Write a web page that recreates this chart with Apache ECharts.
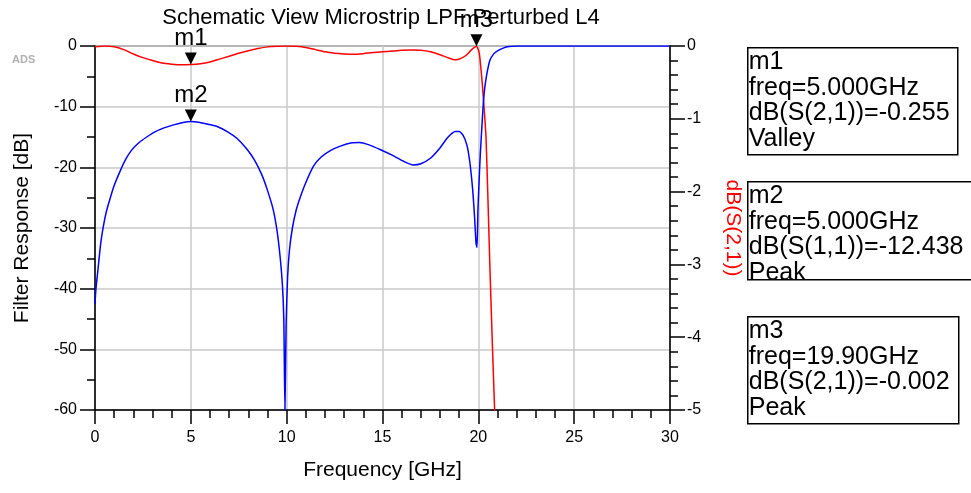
<!DOCTYPE html>
<html>
<head>
<meta charset="utf-8">
<script src="https://cdn.jsdelivr.net/npm/echarts@6/dist/echarts.min.js"></script>
<style>
  html, body { margin: 0; padding: 0; background: #fff; }
  #filterChart { width: 971px; height: 493px; }
</style>
</head>
<body>
<div id="filterChart"></div>
<script>
// dB(S(1,1)) - left axis
const s11Freq = [0, 0.05, 0.15, 0.3, 0.45, 0.6, 0.8, 1.0, 1.3, 1.6, 1.9, 2.3, 2.7, 3.1, 3.6, 4.1, 4.6, 5.0,
  5.4, 5.9, 6.4, 6.9, 7.4, 7.9, 8.3, 8.7, 9.0, 9.3, 9.5, 9.65, 9.78, 9.85, 9.91, 9.97, 10.05, 10.15, 10.3,
  10.5, 10.7, 11.0, 11.4, 11.8, 12.3, 12.8, 13.4, 13.8, 14.3, 14.9, 15.5, 16.1, 16.6, 17.0, 17.5, 18.0,
  18.4, 18.8, 19.0, 19.2, 19.4, 19.55, 19.7, 19.8, 19.88, 19.93, 19.98, 20.05, 20.1, 20.2, 20.27, 20.35,
  20.45, 20.6, 20.8, 21.0, 21.3, 21.6, 22.0, 30]
const s11Db = [-42.5, -40, -37, -32.5, -29.5, -27.2, -25, -23, -20.7, -18.7, -17.2, -15.9, -15.0, -14.2,
  -13.5, -13.0, -12.6, -12.44, -12.55, -12.9, -13.3, -14.1, -15.2, -16.9, -18.7, -21.2, -23.8, -27, -30.5,
  -34.5, -39.5, -45, -60, -46, -38, -33.5, -30, -27, -25, -22.5, -19.8, -18.3, -17.2, -16.5, -15.95, -15.9,
  -16.3, -17.1, -18.0, -19.0, -19.6, -19.4, -18.5, -16.8, -15.1, -14.1, -14.1, -14.7, -16.3, -19, -23.5,
  -28, -32.5, -33.2, -27, -21.5, -18, -12.5, -9, -6.5, -4.5, -2.4, -1.3, -0.8, -0.35, -0.1, 0, 0]

// dB(S(2,1)) - right axis
const s21Freq = [0, 0.5, 1.0, 1.5, 2.0, 2.5, 3.0, 3.5, 4.0, 4.5, 5.0, 5.5, 6.0, 6.5, 7.0, 7.5, 8.0, 8.5,
  9.0, 9.5, 10.0, 10.5, 11.0, 11.5, 12.0, 12.5, 13.0, 13.5, 14.0, 14.5, 15.0, 15.5, 16.0, 16.5, 17.0, 17.5,
  18.0, 18.4, 18.8, 19.1, 19.4, 19.65, 19.9, 20.05, 20.2, 20.3, 20.4, 20.49, 20.6, 20.72, 20.85, 20.95]
const s21Db = [-0.01, 0, -0.01, -0.05, -0.11, -0.16, -0.2, -0.235, -0.25, -0.258, -0.255, -0.245, -0.22,
  -0.18, -0.14, -0.1, -0.065, -0.035, -0.012, -0.002, 0, -0.005, -0.02, -0.05, -0.08, -0.1, -0.11, -0.115,
  -0.105, -0.09, -0.08, -0.07, -0.06, -0.055, -0.06, -0.08, -0.12, -0.16, -0.19, -0.17, -0.12, -0.05,
  -0.002, -0.1, -0.5, -0.85, -1.25, -2, -3, -4, -5, -5.8]

const markers = [
  { name: 'm1', freq: 5.0, value: -0.255, trace: 's21' },
  { name: 'm2', freq: 5.0, value: -12.438, trace: 's11' },
  { name: 'm3', freq: 19.9, value: -0.002, trace: 's21' }
]

const markerText = [
  ['m1', 'freq=5.000GHz', 'dB(S(2,1))=-0.255', 'Valley'],
  ['m2', 'freq=5.000GHz', 'dB(S(1,1))=-12.438', 'Peak'],
  ['m3', 'freq=19.90GHz', 'dB(S(2,1))=-0.002', 'Peak']
]

const font = 'Arial, "Liberation Sans", sans-serif'
const triangle = 'path://M0,0 L12,0 L6,12 Z'

const markPointFor = (trace) => ({
  symbol: triangle,
  symbolSize: [12, 12],
  symbolOffset: [0, '-50%'],
  itemStyle: { color: '#000' },
  label: {
    show: true,
    position: 'top',
    distance: 2,
    formatter: '{b}',
    color: '#000',
    fontSize: 24,
    fontFamily: font
  },
  data: markers.filter(m => m.trace === trace).map(m => ({ name: m.name, coord: [m.freq, m.value] }))
})

const boxTops = [47, 181, 316]
const boxHeights = [107, 98, 107]
const boxWidths = [210, 226, 211]

const drawFilterResponse = () => {
  const chart = echarts.init(document.getElementById('filterChart'))

  const boxes = markerText.map((lines, i) => ({
    type: 'group',
    left: 747,
    top: boxTops[i],
    children: [
      {
        type: 'rect',
        shape: { x: 0, y: 0, width: boxWidths[i], height: boxHeights[i] },
        style: { fill: '#fff', stroke: '#000', lineWidth: 1.5 }
      },
      {
        type: 'text',
        x: 1,
        y: 2,
        style: {
          text: lines.join('\n'),
          fill: '#000',
          font: '25px ' + font,
          lineHeight: 25.5
        }
      }
    ]
  }))

  const option = {
    animation: false,
    grid: {
      left: 95, right: 301, top: 46, bottom: 83,
      show: true, borderColor: '#000', borderWidth: 1
    },
    graphic: [
      {
        type: 'text',
        x: 381, y: 7,
        style: {
          text: 'Schematic View Microstrip LPF Perturbed L4',
          fill: '#000', font: '22px ' + font, textAlign: 'center'
        }
      },
      {
        type: 'text',
        x: 12, y: 54,
        style: { text: 'ADS', fill: '#b0b0b0', font: 'bold 11px ' + font }
      },
      ...boxes
    ],
    xAxis: {
      type: 'value',
      min: 0, max: 30, interval: 5,
      name: 'Frequency [GHz]',
      nameLocation: 'middle',
      nameGap: 50,
      nameTextStyle: { color: '#000', fontSize: 21, fontFamily: font },
      axisLine: { onZero: false, lineStyle: { color: '#000', width: 1.5 } },
      axisTick: { length: 14, lineStyle: { color: '#000', width: 1.5 } },
      minorTick: { show: true, splitNumber: 5, length: 8, lineStyle: { color: '#000', width: 1.5 } },
      axisLabel: { color: '#000', fontSize: 16, fontFamily: font, margin: 20 },
      splitLine: { show: true, lineStyle: { color: '#c8c8c8', width: 1.5 } }
    },
    yAxis: [
      {
        type: 'value',
        position: 'left',
        min: -60, max: 0, interval: 10,
        name: 'Filter Response [dB]',
        nameLocation: 'middle',
        nameGap: 62,
        nameTextStyle: { color: '#000', fontSize: 21, fontFamily: font },
        axisLine: { show: true, onZero: false, lineStyle: { color: '#000', width: 1.5 } },
        axisTick: { show: true, length: 15, lineStyle: { color: '#000', width: 1.5 } },
        minorTick: { show: true, splitNumber: 2, length: 8, lineStyle: { color: '#000', width: 1.5 } },
        axisLabel: { color: '#000', fontSize: 16, fontFamily: font, margin: 18 },
        splitLine: { show: true, lineStyle: { color: '#c8c8c8', width: 1.5 } }
      },
      {
        type: 'value',
        position: 'right',
        min: -5, max: 0, interval: 1,
        name: 'dB(S(2,1))',
        nameLocation: 'middle',
        nameGap: 52,
        nameRotate: -90,
        nameTextStyle: { color: '#ff0000', fontSize: 21, fontFamily: font },
        axisLine: { show: true, onZero: false, lineStyle: { color: '#000', width: 1.5 } },
        axisTick: { show: true, length: 15, lineStyle: { color: '#000', width: 1.5 } },
        minorTick: { show: true, splitNumber: 5, length: 8, lineStyle: { color: '#000', width: 1.5 } },
        axisLabel: { color: '#000', fontSize: 16, fontFamily: font, margin: 17 },
        splitLine: { show: false }
      }
    ],
    series: [
      {
        name: 'dB(S(1,1))',
        type: 'line',
        yAxisIndex: 0,
        showSymbol: false,
        smooth: 0.2,
        lineStyle: { color: '#0000ff', width: 1.5 },
        data: s11Freq.map((f, i) => [f, s11Db[i]]),
        markPoint: markPointFor('s11'),
        z: 3
      },
      {
        name: 'dB(S(2,1))',
        type: 'line',
        yAxisIndex: 1,
        showSymbol: false,
        smooth: 0.2,
        lineStyle: { color: '#ff0000', width: 1.5 },
        data: s21Freq.map((f, i) => [f, s21Db[i]]),
        markPoint: markPointFor('s21'),
        z: 2
      }
    ]
  }

  chart.setOption(option)
}

drawFilterResponse()
</script>
</body>
</html>
